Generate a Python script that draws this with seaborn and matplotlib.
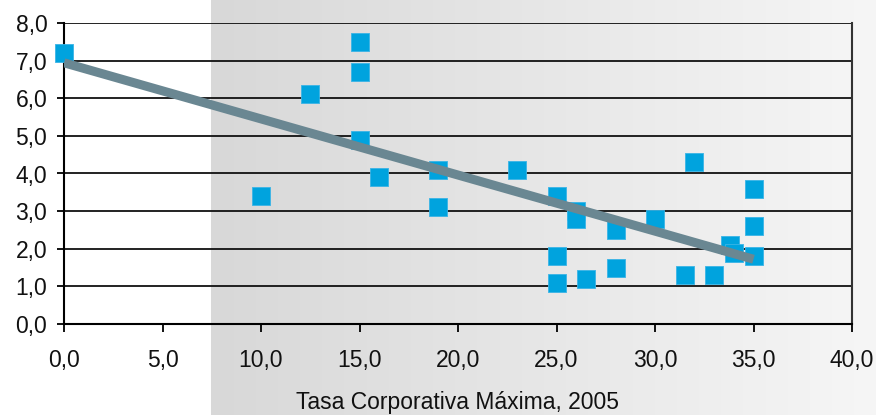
import numpy as np
import pandas as pd
import matplotlib
matplotlib.use("Agg")
import matplotlib.pyplot as plt
import seaborn as sns

# Data
tax_rate = [0.0, 10.0, 12.5, 15.0, 15.0, 15.0, 16.0, 19.0, 19.0, 23.0,
            25.0, 25.0, 25.0, 26.0, 26.0, 26.5, 28.0, 28.0, 30.0, 31.5,
            32.0, 33.0, 33.8, 34.0, 35.0, 35.0, 35.0]
value = [7.2, 3.4, 6.1, 7.5, 6.7, 4.9, 3.9, 4.1, 3.1, 4.1,
         3.4, 1.8, 1.1, 3.0, 2.8, 1.2, 2.5, 1.5, 2.8, 1.3,
         4.3, 1.3, 2.1, 1.9, 3.6, 2.6, 1.8]
x_ticks = [0, 5, 10, 15, 20, 25, 30, 35, 40]
y_ticks = [0, 1, 2, 3, 4, 5, 6, 7, 8]
x_label = "Tasa Corporativa Máxima, 2005"

df = pd.DataFrame({"x": tax_rate, "y": value})

sns.set_theme(style="white")
plt.rcParams["font.family"] = ["Liberation Sans", "DejaVu Sans"]

W, H = 876, 415
FS = 16.5
fig = plt.figure(figsize=(W / 100, H / 100), dpi=100)

# background gradient
bg = fig.add_axes([0, 0, 1, 1], zorder=-10)
cols = np.arange(W)
vals = np.where(cols < 211, 255, 216 + (cols - 211) / (W - 211) * 30)
img = np.tile(vals, (2, 1)) / 255.0
bg.imshow(np.dstack([img, img, img]), aspect="auto", extent=[0, 1, 0, 1],
          interpolation="bilinear")
bg.axis("off")

ax = fig.add_axes([64 / W, 1 - 324 / H, (852 - 64) / W, (324 - 23) / H])
ax.patch.set_alpha(0)

sns.scatterplot(data=df, x="x", y="y", ax=ax, marker="s", s=160,
                color="#00a3de", edgecolor="#3ab4e6", linewidth=0.6,
                zorder=3, clip_on=False)
sns.regplot(data=df, x="x", y="y", ax=ax, scatter=False, ci=None,
            truncate=True, color="#6a8792",
            line_kws={"linewidth": 6.5, "solid_capstyle": "butt", "zorder": 4})

ax.set_xlim(0, 40)
ax.set_ylim(0, 8)
ax.set_xticks(x_ticks)
ax.set_yticks(y_ticks)
ax.set_xticklabels([f"{v:.1f}".replace(".", ",") for v in x_ticks])
ax.set_yticklabels([f"{v:.1f}".replace(".", ",") for v in y_ticks])
ax.yaxis.grid(True, color="#111111", linewidth=1.3)
ax.xaxis.grid(False)
ax.set_axisbelow(True)

for s in ["left", "bottom"]:
    ax.spines[s].set_visible(True)
    ax.spines[s].set_color("black")
    ax.spines[s].set_linewidth(1.5)
ax.spines["right"].set_visible(True)
ax.spines["right"].set_color("#333333")
ax.spines["right"].set_linewidth(1.5)
ax.spines["top"].set_visible(False)

ax.tick_params(axis="x", direction="out", length=6, width=1.3, color="black",
               pad=12, labelsize=FS, labelcolor="#111111", bottom=True)
ax.tick_params(axis="y", direction="out", length=5, width=1.3, color="black",
               pad=7, labelsize=FS, labelcolor="#111111", left=True)

ax.set_ylabel("")
ax.set_xlabel(x_label, fontsize=FS, color="#111111")
ax.xaxis.set_label_coords(0.5, (324 - 402) / 301)
ax.xaxis.label.set_verticalalignment("center")

fig.savefig("out.png", dpi=100)
